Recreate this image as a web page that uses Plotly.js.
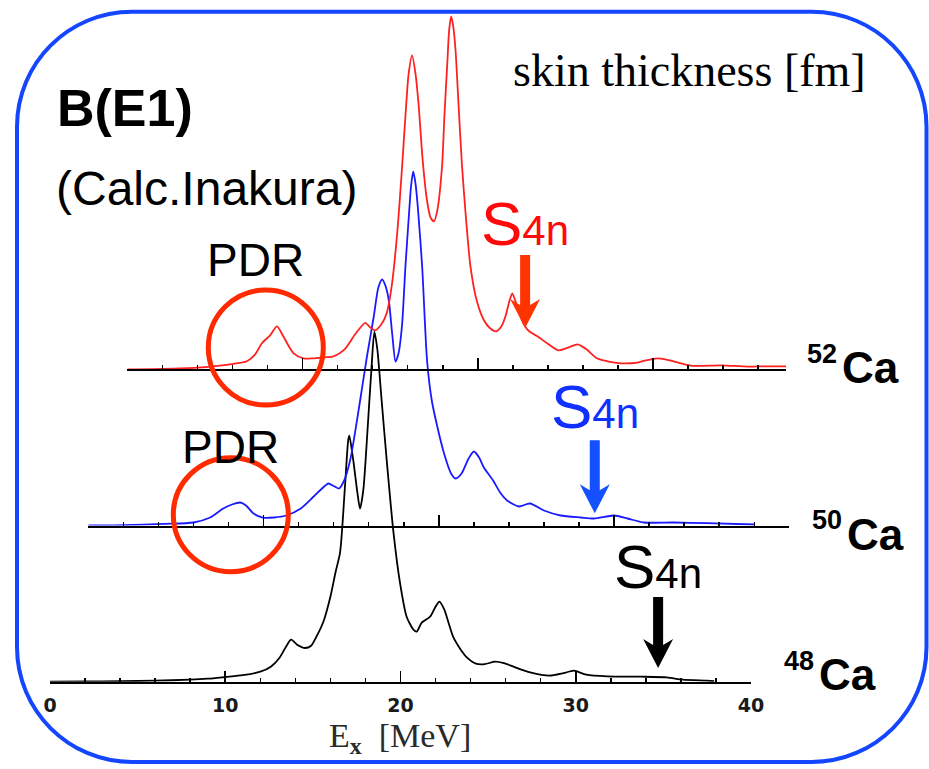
<!DOCTYPE html>
<html>
<head>
<meta charset="utf-8">
<script src="https://cdn.plot.ly/plotly-3.0.1.min.js"></script>
<style>
  html, body { margin: 0; padding: 0; background: #ffffff; }
  #chart { width: 929px; height: 769px; }
</style>
</head>
<body>
<div id="chart"></div>
<script>
// Calculated E1 strength functions B(E1) (arb. units) versus excitation energy Ex [MeV]
// for 48Ca, 50Ca and 52Ca, drawn as a staggered (waterfall) stack.

const e48 = [0, 2, 4, 6, 8, 9, 10, 11, 12, 12.6, 13.1, 13.5, 13.76, 14.1, 14.55, 14.9, 15.2, 15.6, 16.0, 16.3,
  16.55, 16.83, 17.02, 17.08, 17.3, 17.54, 17.69, 17.88, 18.13, 18.35, 18.51, 18.68, 18.92, 19.21, 19.6, 19.97,
  20.35, 20.74, 20.92, 21.21, 21.69, 22.0, 22.22, 22.5, 22.74, 23.0, 23.4, 23.8, 24.3, 24.8, 25.4, 25.9, 26.45,
  27.4, 28.5, 29.3, 29.9, 30.6, 31.8, 33.7, 35.2, 36.1, 37.5, 37.9];
const b48 = [0, 0.03, 0.05, 0.1, 0.2, 0.3, 0.47, 0.65, 1.0, 1.5, 2.4, 3.6, 4.2, 3.7, 3.37, 3.6, 4.5, 6.0, 8.5, 11.0,
  12.9, 19.5, 24.2, 24.6, 22.2, 18.9, 17.3, 19.2, 25.5, 31.5, 35.0, 33.2, 28.2, 22.2, 14.9, 9.9,
  6.5, 5.2, 5.0, 5.9, 6.5, 7.5, 8.0, 7.2, 5.9, 4.5, 3.3, 2.4, 1.8, 1.75, 2.0, 1.85, 1.5,
  0.93, 0.6, 0.85, 1.1, 0.7, 0.53, 0.5, 0.43, 0.2, 0.1, 0.05];

const e50 = [0, 2, 4.3, 6, 6.95, 7.7, 8.2, 8.67, 9.0, 9.43, 10.0, 10.6, 11.3, 12.1, 12.86, 13.4, 13.7, 14.0, 14.3, 14.6,
  14.95, 15.43, 15.9, 16.29, 16.55, 16.77, 16.95, 17.14, 17.35, 17.53, 17.7, 17.9, 18.1, 18.29, 18.42, 18.54, 18.67,
  18.8, 19.05, 19.33, 19.6, 19.9, 20.3, 20.7, 20.96, 21.3, 21.7, 22.0, 22.3, 22.57, 23.1, 23.5, 23.9, 24.57, 25.2,
  26.0, 26.95, 28.1, 28.86, 30.0, 30.77, 31.7, 33.4, 35.3, 38.0];
const b50 = [0, 0.03, 0.17, 0.3, 0.8, 1.7, 2.1, 2.3, 2.0, 1.2, 0.77, 0.8, 1.0, 1.67, 2.9, 3.8, 4.2, 3.95, 3.7, 4.5,
  6.6, 11.6, 16.9, 20.9, 23.8, 24.6, 24.0, 22.6, 19.0, 16.4, 17.2, 20.0, 26.0, 30.9, 34.0, 35.4, 34.2,
  31.9, 25.9, 16.5, 12.5, 10.0, 7.2, 5.2, 4.7, 5.2, 6.7, 7.4, 6.8, 5.8, 4.5, 3.3, 2.5, 1.9, 2.2,
  1.5, 1.0, 0.8, 0.7, 1.0, 0.7, 0.3, 0.3, 0.23, 0.1];

const e52 = [0, 2, 3.97, 5.87, 6.82, 7.3, 7.68, 8.15, 8.54, 8.9, 9.49, 10.06, 10.6, 11.2, 11.77, 12.4, 13.0, 13.58,
  13.85, 14.15, 14.5, 14.8, 15.1, 15.4, 15.65, 15.87, 16.05, 16.25, 16.45, 16.63, 16.85, 17.1, 17.3, 17.5, 17.7,
  17.96, 18.1, 18.25, 18.37, 18.48, 18.6, 18.73, 18.9, 19.1, 19.33, 19.58, 19.95, 20.35, 20.7, 21.05, 21.35, 21.58,
  21.8, 21.97, 22.15, 22.34, 22.6, 22.82, 23.1, 23.4, 23.96, 24.6, 25.2, 25.7, 26.2, 26.8, 27.4, 28.15, 29.1, 29.6,
  30.25, 30.7, 31.2, 32.15, 33.9, 35.4, 36.5, 37.6];
const b52 = [0, 0.05, 0.17, 0.5, 0.8, 1.5, 2.6, 3.4, 4.3, 3.3, 1.6, 1.1, 1.1, 1.2, 1.3, 2.0, 3.5, 4.65,
  4.2, 3.9, 4.5, 5.6, 8.5, 13.6, 19.5, 25.3, 29.5, 31.4, 29.5, 26.3, 21.0, 16.9, 15.2, 14.8, 16.0,
  20.3, 25.5, 30.3, 34.0, 35.3, 34.3, 31.9, 26.5, 20.3, 15.0, 10.3, 6.8, 4.9, 4.1, 3.8, 4.3, 5.3,
  6.8, 7.6, 6.8, 5.8, 4.6, 4.0, 3.6, 3.3, 2.6, 1.9, 2.2, 2.5, 2.0, 1.1, 0.8, 0.6, 0.67, 0.9,
  1.1, 1.0, 0.77, 0.37, 0.4, 0.27, 0.3, 0.3];

// Four-neutron separation energies S4n [MeV] for 48Ca, 50Ca, 52Ca
const s4n = [34.7, 28.9, 22.7];
const massNumbers = ['48', '50', '52'];
const element = 'Ca';
const xTicks = [0, 10, 20, 30, 40];

// ---- page geometry (pixels) ----
const W = 929, H = 769;
const px = x => x / W;
const py = y => 1 - y / H;

const colors = ['#000000', '#1a1aff', '#ff2020'];
const arrowColors = ['#000000', '#1450ff', '#ff3300'];
const textColors = ['#000000', '#1030ff', '#ff0a0a'];

const mevPx = 17.525;                // horizontal scale shared by the three axes
const unitPx = 10;                   // vertical scale: pixels per strength unit
const panelH = 360;                  // height of each y-domain in pixels
const baseX = [50, 88.3, 127.3];     // left end (0 MeV) of each axis
const baseY = [681.7, 525.5, 369.3]; // baseline of each axis
const xMax = [40, 40, 37.6];

const energies = [e48, e50, e52];
const strengths = [b48, b50, b52];

const traces = energies.map((e, i) => ({
  x: e, y: strengths[i],
  xaxis: i === 0 ? 'x' : 'x' + (i + 1),
  yaxis: i === 0 ? 'y' : 'y' + (i + 1),
  type: 'scatter', mode: 'lines',
  line: { color: colors[i], width: 1.8, shape: 'spline', smoothing: 0.7 },
  hoverinfo: 'skip', showlegend: false
}));

const layout = {
  width: W, height: H,
  margin: { l: 0, r: 0, t: 0, b: 0 },
  paper_bgcolor: '#ffffff',
  plot_bgcolor: 'rgba(0,0,0,0)',
  showlegend: false,
  shapes: [],
  annotations: []
};

for (let i = 0; i < 3; i++) {
  const xa = i === 0 ? 'xaxis' : 'xaxis' + (i + 1);
  const ya = i === 0 ? 'yaxis' : 'yaxis' + (i + 1);
  const yb = py(baseY[i]);
  layout[xa] = {
    domain: [px(baseX[i]), px(baseX[i] + mevPx * xMax[i])],
    range: [0, xMax[i]],
    anchor: i === 0 ? 'y' : 'y' + (i + 1),
    showline: true, linecolor: '#000', linewidth: 2,
    showgrid: false, zeroline: false,
    tickmode: 'array', tickvals: xTicks, ticktext: xTicks.map(v => '<b>' + v + '</b>'),
    ticks: 'inside', ticklen: 11, tickwidth: 1.6, tickcolor: '#000',
    minor: { tickmode: 'linear', tick0: 0, dtick: 2, ticks: 'inside', ticklen: 4, tickwidth: 1.5, tickcolor: '#000', showgrid: false },
    showticklabels: i === 0,
    ticklabelstandoff: 5,
    tickfont: { family: 'DejaVu Sans, sans-serif', size: 19, color: '#1a1a1a' },
    fixedrange: true
  };
  layout[ya] = {
    domain: [yb, yb + panelH / H],
    range: [0, panelH / unitPx],
    anchor: i === 0 ? 'x' : 'x' + (i + 1),
    visible: false, fixedrange: true
  };
}

// rounded frame
(function () {
  const L = 17, R = 926.5, T = 11.7, B = 762, r = 115, k = 0.5523 * r;
  const P = (x, y) => px(x).toFixed(5) + ',' + py(y).toFixed(5);
  const d = 'M' + P(L + r, T) + ' L' + P(R - r, T) +
    ' C' + P(R - r + k, T) + ' ' + P(R, T + r - k) + ' ' + P(R, T + r) +
    ' L' + P(R, B - r) +
    ' C' + P(R, B - r + k) + ' ' + P(R - r + k, B) + ' ' + P(R - r, B) +
    ' L' + P(L + r, B) +
    ' C' + P(L + r - k, B) + ' ' + P(L, B - r + k) + ' ' + P(L, B - r) +
    ' L' + P(L, T + r) +
    ' C' + P(L, T + r - k) + ' ' + P(L + r - k, T) + ' ' + P(L + r, T) + ' Z';
  layout.shapes.push({ type: 'path', xref: 'paper', yref: 'paper', path: d,
    line: { color: '#1446ff', width: 4 }, fillcolor: 'rgba(0,0,0,0)', layer: 'above' });
})();

// PDR circles
[[208.3, 290, 323.3, 405], [173.3, 457.7, 288.3, 571.7]].forEach(c => {
  layout.shapes.push({ type: 'circle', xref: 'paper', yref: 'paper',
    x0: px(c[0]), x1: px(c[2]), y0: py(c[3]), y1: py(c[1]),
    line: { color: '#ff2a00', width: 5 }, layer: 'above' });
});

// S4n arrows: block arrows whose tips sit at x = S4n on each isotope's own axis
const tipY = [668, 513.3, 328];
const tailLen = [71, 73, 73];
function arrowPath(i) {
  const xr = i === 0 ? 'x' : 'x' + (i + 1);
  const L = tailLen[i];
  // outline offsets from the tip in pixels (dx right, dy up)
  const pts = [[0, 0], [15, 29], [5, 23], [5, L], [-5, L], [-5, 23], [-15, 29]];
  const d = pts.map((p, j) => (j === 0 ? 'M' : 'L') +
    (s4n[i] + p[0] / mevPx).toFixed(4) + ',' + py(tipY[i] - p[1]).toFixed(5)).join(' ') + ' Z';
  return { type: 'path', xref: xr, yref: 'paper', path: d,
    fillcolor: arrowColors[i], line: { width: 0 }, layer: 'above' };
}
for (let i = 0; i < 3; i++) layout.shapes.push(arrowPath(i));

const sans = 'Liberation Sans, Arial, sans-serif';
const serif = 'Liberation Serif, Times New Roman, serif';

function label(text, x, y, size, opts) {
  opts = opts || {};
  layout.annotations.push(Object.assign({
    text: text, xref: 'paper', yref: 'paper', x: px(x), y: py(y),
    xanchor: 'left', yanchor: 'middle', showarrow: false,
    font: { family: sans, size: size, color: '#000' }
  }, opts));
}

label('<b>B(E1)</b>', 55, 108, 52);
label('(Calc.Inakura)', 54, 188, 48);
label('skin thickness [fm]', 511, 71, 46, { font: { family: serif, size: 46, color: '#000' } });
label('PDR', 255, 260, 46, { xanchor: 'center' });
label('PDR', 230, 447, 46, { xanchor: 'center' });

// axis title
label('E<sub><b>x</b></sub>  [MeV]', 400, 738, 34, { xanchor: 'center', font: { family: serif, size: 34, color: '#2a2a2a' } });

// isotope labels
const isoNumX = [782, 810, 805], isoNumY = [661, 520, 353.5];
const isoCaX = [817, 845, 840], isoCaY = [674, 534, 367.5];
for (let i = 0; i < 3; i++) {
  label('<b>' + massNumbers[i] + '</b>', isoNumX[i], isoNumY[i], 27);
  label('<b>' + element + '</b>', isoCaX[i], isoCaY[i], 44);
}

// S4n labels above the arrows
const s4nTextY = [566, 406, 223];
for (let i = 0; i < 3; i++) {
  layout.annotations.push({
    text: 'S<span style="font-size:42px">4n</span>', xref: i === 0 ? 'x' : 'x' + (i + 1), yref: 'paper',
    x: s4n[i], y: py(s4nTextY[i]), xanchor: 'center', yanchor: 'middle', showarrow: false,
    font: { family: sans, size: 62, color: textColors[i] }
  });
}

Plotly.newPlot('chart', traces, layout, { staticPlot: true, displayModeBar: false });
</script>
</body>
</html>
